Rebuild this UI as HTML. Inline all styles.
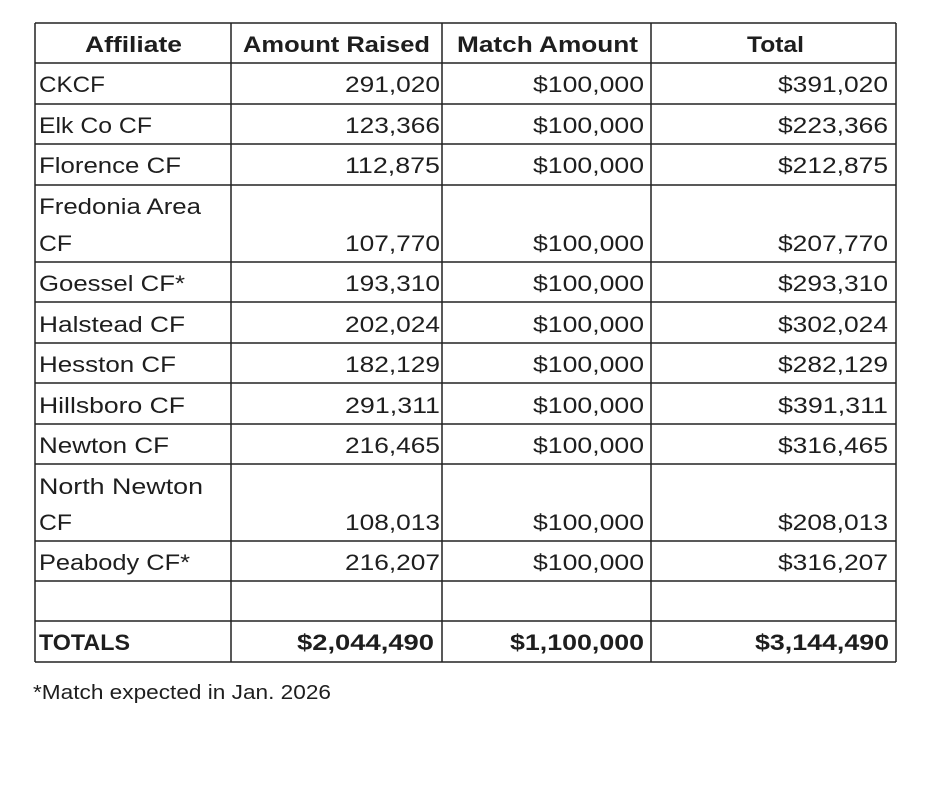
<!DOCTYPE html>
<html><head><meta charset="utf-8"><style>
html,body{margin:0;padding:0;background:#fff;width:940px;height:788px;overflow:hidden}
svg{display:block}
text{font-family:"Liberation Sans",sans-serif;font-size:22px;fill:#1e1e1e}
.b{font-weight:bold}
</style></head><body>
<svg width="940" height="788" viewBox="0 0 940 788">
<g stroke="#222" stroke-width="1.5">
<line x1="35" y1="23" x2="896" y2="23"/>
<line x1="35" y1="63" x2="896" y2="63"/>
<line x1="35" y1="104" x2="896" y2="104"/>
<line x1="35" y1="144" x2="896" y2="144"/>
<line x1="35" y1="185" x2="896" y2="185"/>
<line x1="35" y1="262" x2="896" y2="262"/>
<line x1="35" y1="302" x2="896" y2="302"/>
<line x1="35" y1="343" x2="896" y2="343"/>
<line x1="35" y1="383" x2="896" y2="383"/>
<line x1="35" y1="424" x2="896" y2="424"/>
<line x1="35" y1="464" x2="896" y2="464"/>
<line x1="35" y1="541" x2="896" y2="541"/>
<line x1="35" y1="581" x2="896" y2="581"/>
<line x1="35" y1="621" x2="896" y2="621"/>
<line x1="35" y1="662" x2="896" y2="662"/>
<line x1="35" y1="23" x2="35" y2="662"/>
<line x1="231" y1="23" x2="231" y2="662"/>
<line x1="442" y1="23" x2="442" y2="662"/>
<line x1="651" y1="23" x2="651" y2="662"/>
<line x1="896" y1="23" x2="896" y2="662"/>
</g>
<g>
<text class="b" x="85" y="52" textLength="97" lengthAdjust="spacingAndGlyphs">Affiliate</text>
<text class="b" x="243" y="52" textLength="187" lengthAdjust="spacingAndGlyphs">Amount Raised</text>
<text class="b" x="457" y="52" textLength="181" lengthAdjust="spacingAndGlyphs">Match Amount</text>
<text class="b" x="747" y="52" textLength="57" lengthAdjust="spacingAndGlyphs">Total</text>

<text x="39" y="92" textLength="66" lengthAdjust="spacingAndGlyphs">CKCF</text>
<text x="39" y="133" textLength="113" lengthAdjust="spacingAndGlyphs">Elk Co CF</text>
<text x="39" y="173" textLength="142" lengthAdjust="spacingAndGlyphs">Florence CF</text>
<text x="39" y="214" textLength="162" lengthAdjust="spacingAndGlyphs">Fredonia Area</text>
<text x="39" y="251" textLength="33" lengthAdjust="spacingAndGlyphs">CF</text>
<text x="39" y="291" textLength="146" lengthAdjust="spacingAndGlyphs">Goessel CF*</text>
<text x="39" y="332" textLength="146" lengthAdjust="spacingAndGlyphs">Halstead CF</text>
<text x="39" y="372" textLength="137" lengthAdjust="spacingAndGlyphs">Hesston CF</text>
<text x="39" y="413" textLength="146" lengthAdjust="spacingAndGlyphs">Hillsboro CF</text>
<text x="39" y="453" textLength="130" lengthAdjust="spacingAndGlyphs">Newton CF</text>
<text x="39" y="494" textLength="164" lengthAdjust="spacingAndGlyphs">North Newton</text>
<text x="39" y="530" textLength="33" lengthAdjust="spacingAndGlyphs">CF</text>
<text x="39" y="570" textLength="151" lengthAdjust="spacingAndGlyphs">Peabody CF*</text>
<text class="b" x="39" y="650" textLength="91" lengthAdjust="spacingAndGlyphs">TOTALS</text>
</g>
<g>
<text x="345" y="92" textLength="95" lengthAdjust="spacingAndGlyphs">291,020</text><text x="533" y="92" textLength="111" lengthAdjust="spacingAndGlyphs">$100,000</text><text x="778" y="92" textLength="110" lengthAdjust="spacingAndGlyphs">$391,020</text>
<text x="345" y="133" textLength="95" lengthAdjust="spacingAndGlyphs">123,366</text><text x="533" y="133" textLength="111" lengthAdjust="spacingAndGlyphs">$100,000</text><text x="778" y="133" textLength="110" lengthAdjust="spacingAndGlyphs">$223,366</text>
<text x="345" y="173" textLength="95" lengthAdjust="spacingAndGlyphs">112,875</text><text x="533" y="173" textLength="111" lengthAdjust="spacingAndGlyphs">$100,000</text><text x="778" y="173" textLength="110" lengthAdjust="spacingAndGlyphs">$212,875</text>
<text x="345" y="251" textLength="95" lengthAdjust="spacingAndGlyphs">107,770</text><text x="533" y="251" textLength="111" lengthAdjust="spacingAndGlyphs">$100,000</text><text x="778" y="251" textLength="110" lengthAdjust="spacingAndGlyphs">$207,770</text>
<text x="345" y="291" textLength="95" lengthAdjust="spacingAndGlyphs">193,310</text><text x="533" y="291" textLength="111" lengthAdjust="spacingAndGlyphs">$100,000</text><text x="778" y="291" textLength="110" lengthAdjust="spacingAndGlyphs">$293,310</text>
<text x="345" y="332" textLength="95" lengthAdjust="spacingAndGlyphs">202,024</text><text x="533" y="332" textLength="111" lengthAdjust="spacingAndGlyphs">$100,000</text><text x="778" y="332" textLength="110" lengthAdjust="spacingAndGlyphs">$302,024</text>
<text x="345" y="372" textLength="95" lengthAdjust="spacingAndGlyphs">182,129</text><text x="533" y="372" textLength="111" lengthAdjust="spacingAndGlyphs">$100,000</text><text x="778" y="372" textLength="110" lengthAdjust="spacingAndGlyphs">$282,129</text>
<text x="345" y="413" textLength="95" lengthAdjust="spacingAndGlyphs">291,311</text><text x="533" y="413" textLength="111" lengthAdjust="spacingAndGlyphs">$100,000</text><text x="778" y="413" textLength="110" lengthAdjust="spacingAndGlyphs">$391,311</text>
<text x="345" y="453" textLength="95" lengthAdjust="spacingAndGlyphs">216,465</text><text x="533" y="453" textLength="111" lengthAdjust="spacingAndGlyphs">$100,000</text><text x="778" y="453" textLength="110" lengthAdjust="spacingAndGlyphs">$316,465</text>
<text x="345" y="530" textLength="95" lengthAdjust="spacingAndGlyphs">108,013</text><text x="533" y="530" textLength="111" lengthAdjust="spacingAndGlyphs">$100,000</text><text x="778" y="530" textLength="110" lengthAdjust="spacingAndGlyphs">$208,013</text>
<text x="345" y="570" textLength="95" lengthAdjust="spacingAndGlyphs">216,207</text><text x="533" y="570" textLength="111" lengthAdjust="spacingAndGlyphs">$100,000</text><text x="778" y="570" textLength="110" lengthAdjust="spacingAndGlyphs">$316,207</text>
<text class="b" x="297" y="650" textLength="137" lengthAdjust="spacingAndGlyphs">$2,044,490</text><text class="b" x="510" y="650" textLength="134" lengthAdjust="spacingAndGlyphs">$1,100,000</text><text class="b" x="755" y="650" textLength="134" lengthAdjust="spacingAndGlyphs">$3,144,490</text>
</g>
<text x="33" y="699" style="font-size:20px" textLength="298" lengthAdjust="spacingAndGlyphs">*Match expected in Jan. 2026</text>
</svg>
</body></html>
